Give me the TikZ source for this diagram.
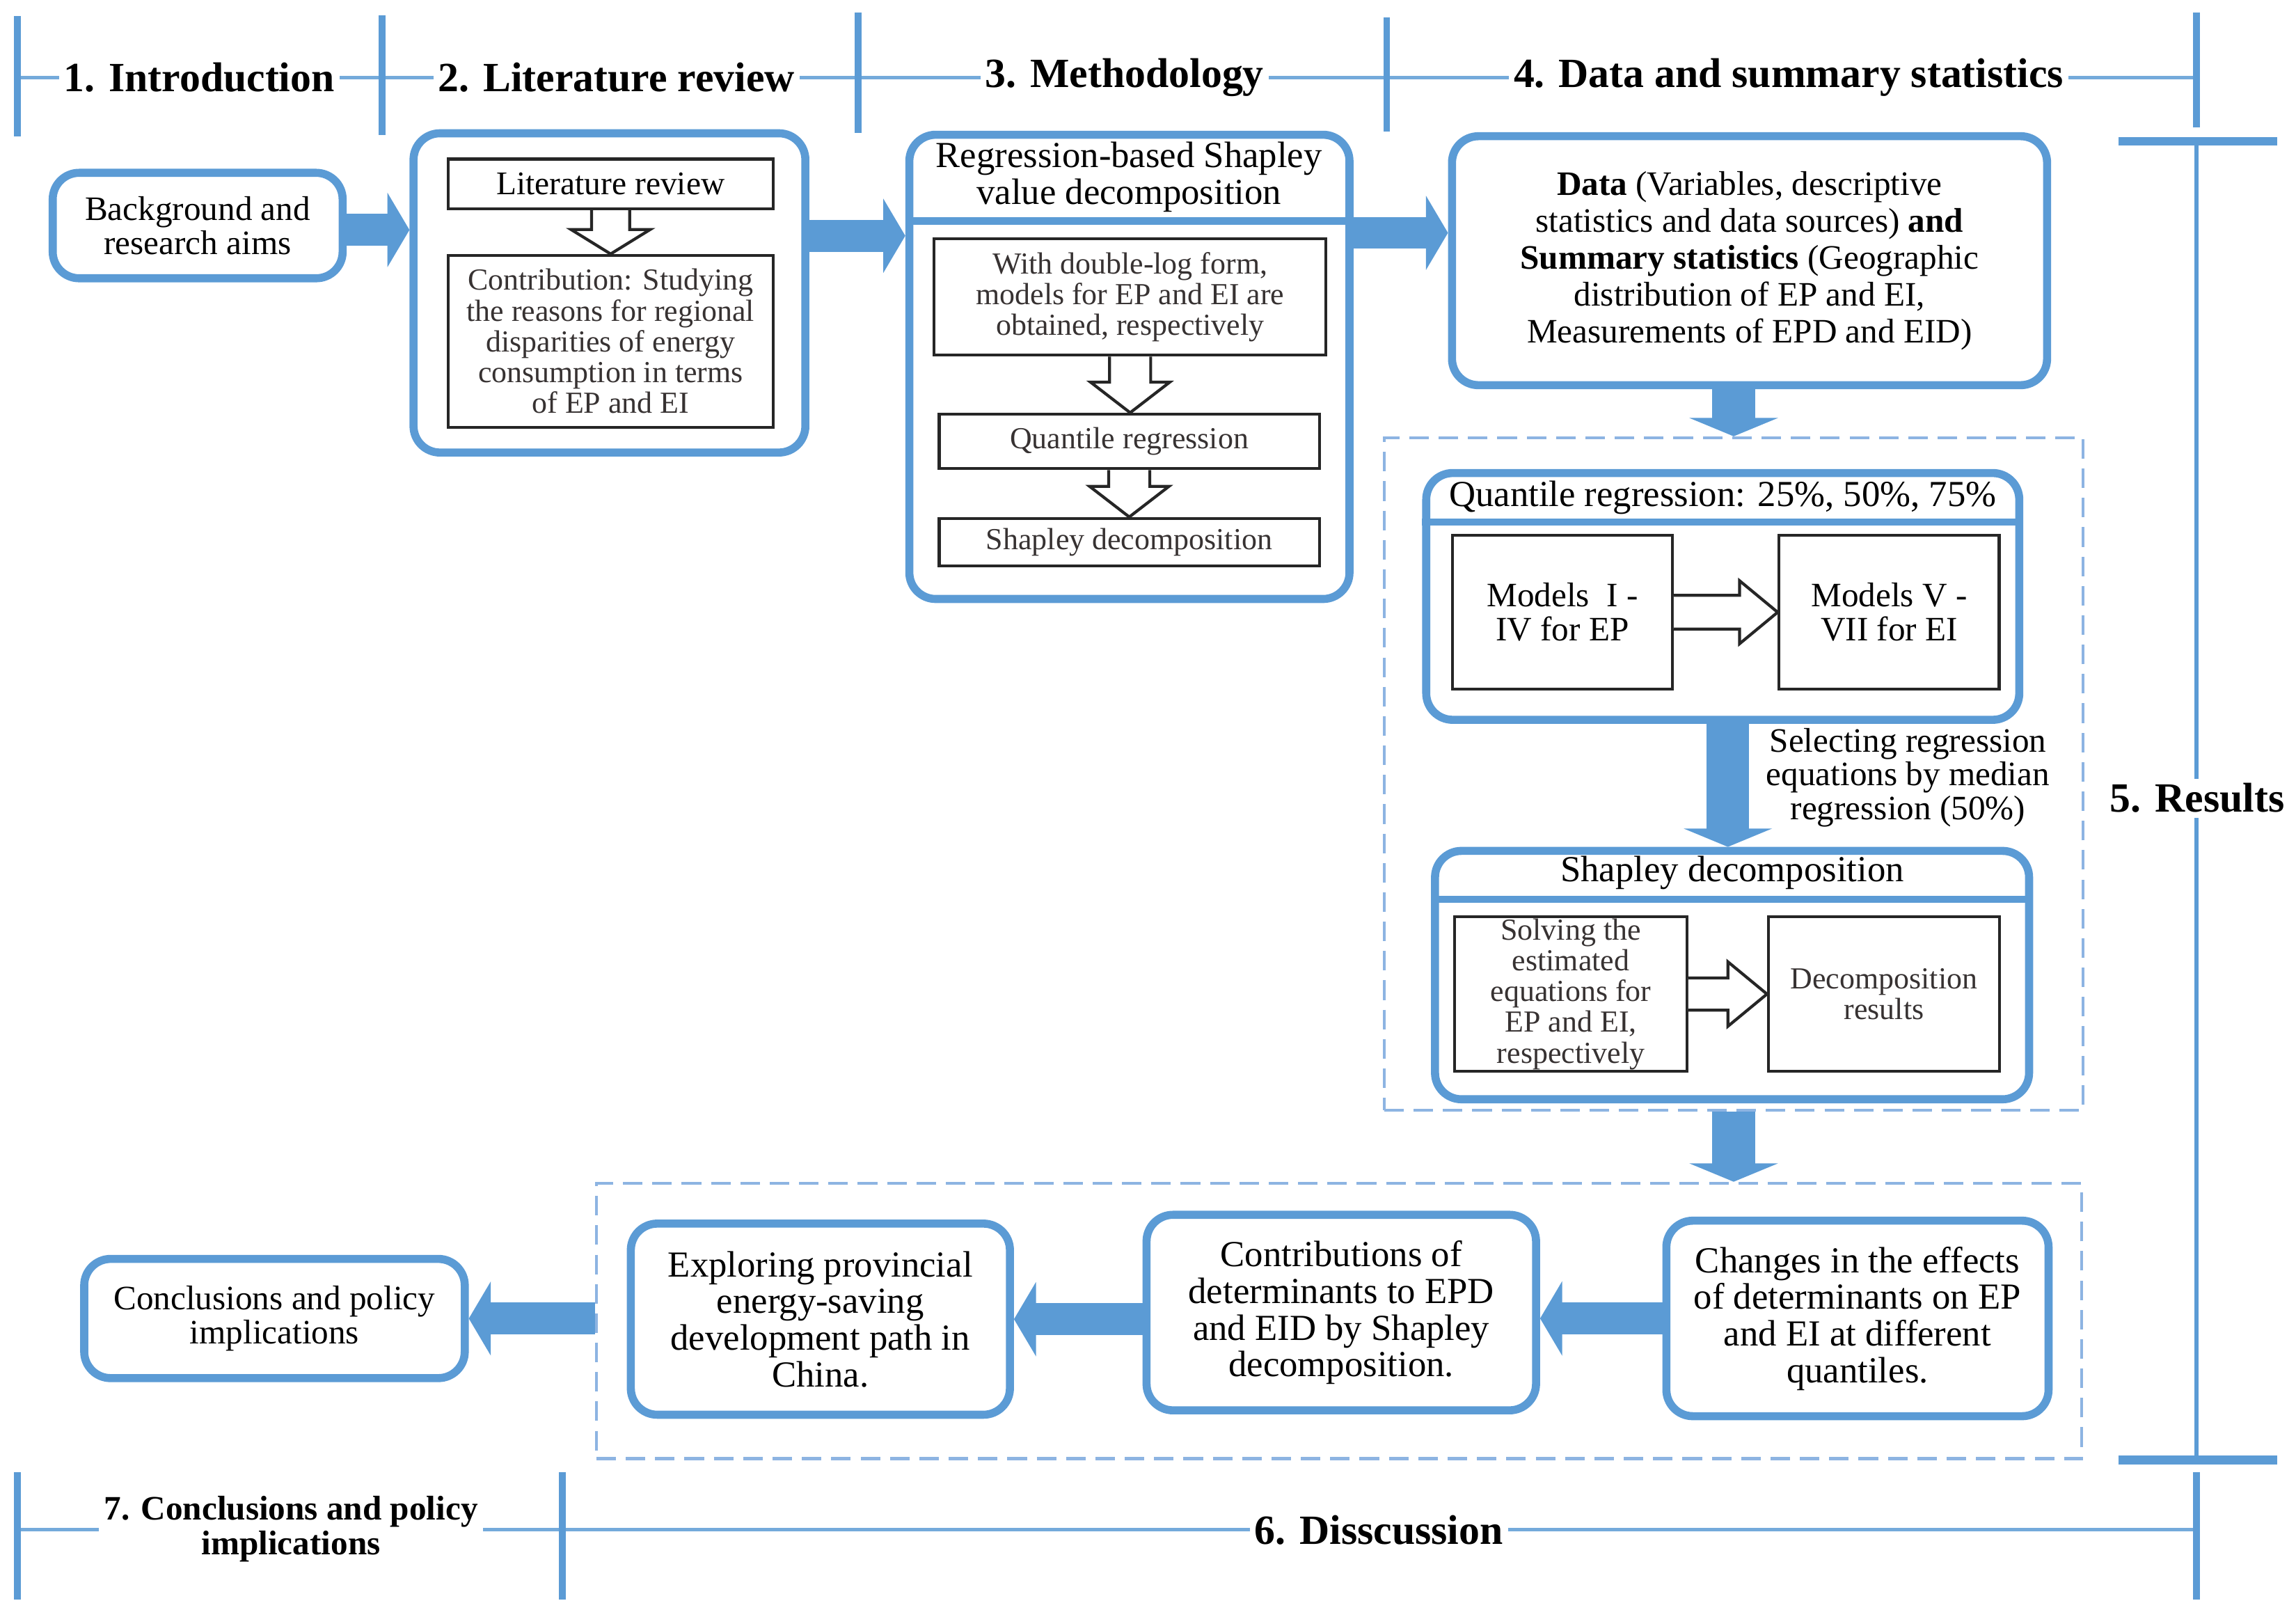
\documentclass[tikz,border=0pt]{standalone}
\usepackage{fontspec}
\setmainfont{Liberation Serif}
\usetikzlibrary{arrows.meta,fit,calc}
\definecolor{bblue}{RGB}{91,155,213}
\definecolor{lblue}{RGB}{141,180,226}
\definecolor{txtgray}{RGB}{55,50,50}
\newcommand\hdown[5]{%
  \path[hollow] let \p1=(#1.south), \p2=(#2.north) in
   (\x1-#3,\y1) -- (\x1-#3,\y2+#5) -- (\x1-#4,\y2+#5) -- (\x1,\y2) -- (\x1+#4,\y2+#5) -- (\x1+#3,\y2+#5) -- (\x1+#3,\y1);}
\newcommand\hright[5]{%
  \path[hollow] let \p1=(#1.east), \p2=(#2.west) in
   (\x1,\y1+#3) -- (\x2-#5,\y1+#3) -- (\x2-#5,\y1+#4) -- (\x2,\y1) -- (\x2-#5,\y1-#4) -- (\x2-#5,\y1-#3) -- (\x1,\y1-#3);}
\begin{document}
\begin{tikzpicture}[x=0.2104mm,y=-0.2104mm,
  rbox/.style={draw=bblue, line width=3.3pt, rounded corners=3.8mm, inner sep=0pt, fill=white, align=center},
  ibox/.style={draw=black!85, line width=1.2pt, inner sep=0pt, fill=white, align=center},
  dbox/.style={draw=lblue, line width=1.3pt, dash pattern=on 8pt off 4pt, inner sep=0pt},
  hline/.style={draw=bblue!85, line width=1.6pt},
  tick/.style={draw=bblue, line width=2.8pt},
  sechead/.style={font=\fontsize{17pt}{20pt}\selectfont\bfseries, fill=white, inner sep=2pt, align=center},
  sepline/.style={draw=bblue, line width=3pt},
  bigarrow/.style={draw=bblue, line width=13pt, -{Triangle[length=9pt,width=30pt]}},
  bigarrowV/.style={draw=bblue, line width=17.5pt, -{Triangle[length=7.5pt,width=36pt]}},
  hollow/.style={draw=black!85, line width=1.2pt, fill=white, line join=miter},
  tA/.style={font=\fontsize{14pt}{14pt}\selectfont},
  tB/.style={font=\fontsize{12.5pt}{12.6pt}\selectfont, text=txtgray},
  tC/.style={font=\fontsize{15pt}{15pt}\selectfont},
]
\useasboundingbox (0,0) rectangle (1568,1099);

% ---------- top section bar ----------
\coordinate (h0) at (12,53);
\coordinate (h1) at (1500,53);
\draw[hline] (h0) -- (h1);
\draw[tick] (12,11) -- (12,93);
\draw[tick] (261,10.6) -- (261,92);
\draw[tick] (586,8.5) -- (586,91);
\draw[tick] (947,11.7) -- (947,90);
\draw[tick] (1500,8.5) -- (1500,87);
\node[sechead] (s1) at (136,53) {1. Introduction};
\node[sechead] (s2) at (421,53) {2. Literature review};
\node[sechead] (s3) at (768,53) {3. Methodology};
\node[sechead] (s4) at (1221.5,53) {4. Data and summary statistics};

% ---------- results bar ----------
\draw[draw=bblue, line width=1.5pt] (1500,97) -- (1500,997);
\draw[draw=bblue, line width=3.6pt] (1447,96.5) -- (1555,96.5);
\draw[draw=bblue, line width=3.6pt] (1447,997) -- (1555,997);
\node[sechead] (s5) at (1500.6,545) {5. Results};

% ---------- bottom section bar ----------
\draw[hline] (12,1044.5) -- (1500,1044.5);
\draw[tick] (12,1005) -- (12,1092);
\draw[tick] (384,1005) -- (384,1092);
\draw[tick] (1500,1005) -- (1500,1092);
\node[sechead, font=\fontsize{14pt}{14.4pt}\selectfont\bfseries] (s7) at (198.7,1044) {7. Conclusions and policy\\implications};
\node[sechead] (s6) at (941.6,1045) {6. Disscussion};

% ---------- dashed groups ----------
\node[dbox, fit={(945.3,299) (1422.6,758)}] (dash1) {};
\node[dbox, fit={(407.3,808) (1421.5,996)}] (dash2) {};

% ---------- introduction ----------
\node[rbox, tA, fit={(36,118) (234,190)}] (bg) {};
\node[tA, align=center] (bgt) at (bg.center) {Background and\\research aims};

% ---------- literature review ----------
\node[rbox, fit={(282.4,91) (550,309)}] (lit) {};
\node[ibox, fit={(306,108.6) (528,142.6)}] (litA) {};
\node[font=\fontsize{13.5pt}{14pt}\selectfont] (litAt) at (litA.center) {Literature review};
\node[ibox, fit={(306,174.4) (528,291.7)}] (litB) {};
\node[tB, align=center] (litBt) at (litB.center) {Contribution: Studying\\the reasons for regional\\disparities of energy\\consumption in terms\\of EP and EI};
\hdown{litA}{litB}{7.8pt}{16.2pt}{10pt}

% ---------- methodology ----------
\node[rbox, fit={(621,92) (921.6,409)}] (meth) {};
\node[tC, align=center] (metht) at (771,121) {Regression-based Shapley\\value decomposition};
\draw[sepline] (meth.west |- 0,151) -- (meth.east |- 0,151);
\node[ibox, fit={(638,163) (905.6,242.5)}] (m1) {};
\node[tB, align=center] (m1t) at (m1.center) {With double-log form,\\models for EP and EI are\\obtained, respectively};
\node[ibox, fit={(641.4,282.8) (901,320)}] (m2) {};
\node[tB] (m2t) at (m2.center) {Quantile regression};
\node[ibox, fit={(641.4,354) (901,386.4)}] (m3) {};
\node[tB] (m3t) at (m3.center) {Shapley decomposition};
\hdown{m1}{m2}{8.4pt}{16.2pt}{12.5pt}
\hdown{m2}{m3}{8.4pt}{16.2pt}{12.5pt}

% ---------- data ----------
\node[rbox, fit={(991.6,93) (1398,263)}] (data) {};
\node[font=\fontsize{14pt}{15.1pt}\selectfont, align=center] (datat) at (data.center) {\textbf{Data} (Variables, descriptive\\statistics and data sources) \textbf{and}\\\textbf{Summary statistics} (Geographic\\distribution of EP and EI,\\Measurements of EPD and EID)};

% ---------- results: quantile regression ----------
\node[rbox, fit={(974,323) (1379,491.5)}] (quant) {};
\node[tC] (quantt) at (1176.5,340) {Quantile regression: 25\%, 50\%, 75\%};
\draw[sepline] (quant.west |- 0,356.5) -- (quant.east |- 0,356.5);
\node[ibox, fit={(992,365.5) (1142,470.6)}] (mod1) {};
\node[tA, align=center] (mod1t) at (mod1.center) {Models\ \ I -\\IV for EP};
\node[ibox, fit={(1215,365.5) (1365.3,470.6)}] (mod2) {};
\node[tA, align=center] (mod2t) at (mod2.center) {Models V -\\VII for EI};
\hright{mod1}{mod2}{6.9pt}{12.9pt}{15.6pt}

% ---------- results: shapley ----------
\node[rbox, fit={(980,581) (1385.7,750.6)}] (shap) {};
\node[tC] (shapt) at (1183,596) {Shapley decomposition};
\draw[sepline] (shap.west |- 0,614) -- (shap.east |- 0,614);
\node[ibox, fit={(993.5,626) (1152,731.5)}] (solv) {};
\node[tB, align=center] (solvt) at (solv.center) {Solving the\\estimated\\equations for\\EP and EI,\\respectively};
\node[ibox, fit={(1207.7,626) (1365.5,731.5)}] (dec) {};
\node[tB, align=center] (dect) at (dec.center) {Decomposition\\results};
\hright{solv}{dec}{6.6pt}{13.2pt}{16pt}

\node[font=\fontsize{14pt}{13.8pt}\selectfont, align=center] (sel) at (1303,531) {Selecting regression\\equations by median\\regression (50\%)};

% ---------- discussion ----------
\node[rbox, fit={(1138,833.5) (1399,967)}] (chg) {};
\node[tC, align=center] (chgt) at (chg.center) {Changes in the effects\\of determinants on EP\\and EI at different\\quantiles.};
\node[rbox, fit={(783,829.5) (1049,963)}] (contr) {};
\node[tC, align=center] (contrt) at (contr.center) {Contributions of\\determinants to EPD\\and EID by Shapley\\decomposition.};
\node[rbox, fit={(430.8,835.5) (689.7,966)}] (expl) {};
\node[tC, align=center] (explt) at (expl.center) {Exploring provincial\\energy-saving\\development path in\\China.};

% ---------- conclusions ----------
\node[rbox, fit={(57.5,859.6) (317.4,941)}] (concl) {};
\node[tA, align=center] (conclt) at (concl.center) {Conclusions and policy\\implications};

% ---------- thick arrows ----------
\coordinate (r1) at (0,157);
\coordinate (r2) at (0,161);
\coordinate (r3) at (0,159);
\coordinate (c2) at (1180,0);
\draw[bigarrow] (bg.east |- r1) -- (lit.west |- r1);
\draw[bigarrow] (lit.east |- r2) -- (meth.west |- r2);
\draw[bigarrow] (meth.east |- r3) -- (data.west |- r3);
\draw[bigarrowV] (dash1.north |- data.south) -- (dash1.north);
\draw[bigarrowV] (c2 |- quant.south) -- (c2 |- shap.north);
\draw[bigarrowV] (dash1.south) -- (dash1.south |- dash2.north);
\draw[bigarrow] (chg.west) -- (chg.west -| contr.east);
\draw[bigarrow] (contr.west |- expl.east) -- (expl.east);
\draw[bigarrow] (dash2.west |- concl.east) -- (concl.east);
\end{tikzpicture}
\end{document}
